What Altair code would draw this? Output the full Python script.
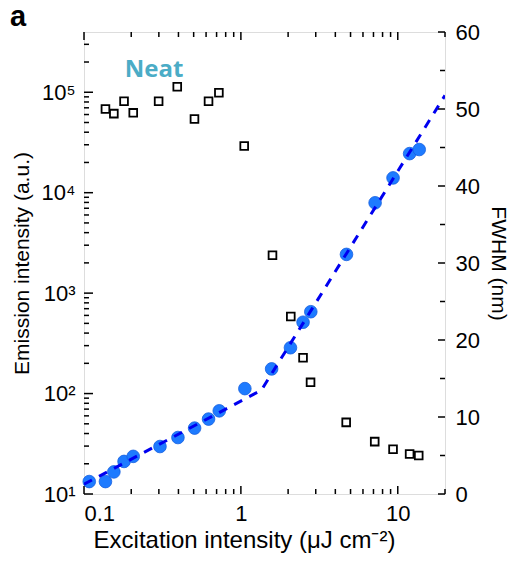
import altair as alt
import pandas as pd

# Emission intensity (left, log axis)
ex_x = [0.108, 0.137, 0.155, 0.180, 0.206, 0.305, 0.397, 0.507, 0.622, 0.728,
        1.06, 1.57, 2.07, 2.49, 2.79, 4.71, 7.17, 9.33, 11.9, 13.7]
ex_y = [13.3, 13.3, 16.6, 21.1, 23.7, 29.7, 36.5, 45.3, 55.7, 67.3,
        112, 176, 286, 513, 653, 2430, 7930, 14030, 24500, 26900]

# Fit (dashed line)
fit_x = [0.1, 1.35, 20]
fit_y = [12.5, 108, 93000]

# FWHM (right, linear axis)
fw_x = [0.137, 0.155, 0.180, 0.206, 0.299, 0.393, 0.506, 0.622, 0.724, 1.05,
        1.59, 2.08, 2.49, 2.78, 4.69, 7.13, 9.33, 11.9, 13.6]
fw_y = [50.0, 49.4, 51.0, 49.5, 51.0, 52.9, 48.7, 51.0, 52.1, 45.2,
        31.0, 23.05, 17.7, 14.5, 9.3, 6.8, 5.8, 5.2, 5.0]

x_major = [0.1, 1, 10]
x_minor = [0.2, 0.3, 0.4, 0.5, 0.6, 0.7, 0.8, 0.9,
           2, 3, 4, 5, 6, 7, 8, 9, 20]
y_major = [10, 100, 1000, 10000, 100000]
y_minor = [m * d for d in [10, 100, 1000, 10000] for m in range(2, 10)] + [200000, 300000]
r_major = [0, 10, 20, 30, 40, 50, 60]
r_minor = [5, 15, 25, 35, 45, 55]

W, H = 361, 462
FONT = "Liberation Sans"

xs = alt.Scale(type="log", domain=[0.1, 20], nice=False)
ys = alt.Scale(type="log", domain=[10, 398000], nice=False)
rs = alt.Scale(domain=[0, 60], nice=False)

emis = pd.DataFrame({"x": ex_x, "y": ex_y})
fit = pd.DataFrame({"x": fit_x, "y": fit_y})
fw = pd.DataFrame({"x": fw_x, "y": fw_y})

x_axis = alt.Axis(values=x_major, format="~g", ticks=False, domain=False, grid=False,
                  labelFontSize=22, labelFont=FONT, labelColor="black", labelPadding=9,
                  title="Excitation intensity (μJ cm⁻²)", titleFont=FONT, titleFontSize=24,
                  titleFontWeight="normal", titleColor="black", titlePadding=4, titleX=160)

left_axis = alt.Axis(values=y_major, ticks=False, domain=False, grid=False,
                     labelExpr="'10' + ['⁰','¹','²','³','⁴','⁵','⁶'][round(log(datum.value)/LN10)]",
                     labelFontSize=22, labelFont=FONT, labelColor="black", labelPadding=9,
                     title="Emission intensity (a.u.)", titleFont=FONT, titleFontSize=21,
                     titleFontWeight="normal", titleColor="black", titlePadding=9)

right_axis = alt.Axis(values=r_major, orient="right", ticks=False, domain=False, grid=False,
                      labelFontSize=22, labelFont=FONT, labelColor="black", labelPadding=10,
                      title="FWHM (nm)", titleFont=FONT, titleFontSize=21,
                      titleFontWeight="normal", titleColor="black", titlePadding=8)

X = alt.X("x:Q", scale=xs, axis=x_axis)

points = alt.Chart(emis).mark_circle(size=160, color="#1E7BFF", opacity=1,
                                     stroke="#1560E0", strokeWidth=0.8).encode(
    x=X, y=alt.Y("y:Q", scale=ys, axis=left_axis))

line = alt.Chart(fit).mark_line(color="#0000F0", strokeWidth=3, strokeDash=[9, 8], clip=True).encode(
    x=alt.X("x:Q", scale=xs), y=alt.Y("y:Q", scale=ys))

def vticks(vals, length, top):
    d = pd.DataFrame({"v": vals})
    if top:
        return alt.Chart(d).mark_rule(color="black", strokeWidth=1.5).encode(
            x=alt.X("v:Q", scale=xs), y=alt.value(0), y2=alt.value(length))
    return alt.Chart(d).mark_rule(color="black", strokeWidth=1.5).encode(
        x=alt.X("v:Q", scale=xs), y=alt.value(H), y2=alt.value(H - length))

def lticks(vals, length):
    d = pd.DataFrame({"v": vals})
    return alt.Chart(d).mark_rule(color="black", strokeWidth=1.5).encode(
        y=alt.Y("v:Q", scale=ys), x=alt.value(0), x2=alt.value(length))

def rticks(vals, length):
    d = pd.DataFrame({"v": vals})
    return alt.Chart(d).mark_rule(color="black", strokeWidth=1.5).encode(
        y=alt.Y("v:Q", scale=rs), x=alt.value(W), x2=alt.value(W - length))

label_a = alt.Chart(pd.DataFrame({"t": ["a"]})).mark_text(
    font=FONT, fontSize=29, fontWeight="bold", align="center", baseline="alphabetic",
    color="black").encode(text="t:N", x=alt.value(-66), y=alt.value(-6))

neat = alt.Chart(pd.DataFrame({"t": ["Neat"]})).mark_text(
    font="Open Sans", fontSize=24, fontWeight="bold", align="center", baseline="alphabetic",
    color="#4BACC6").encode(text="t:N", x=alt.value(70), y=alt.value(45))

left_group = alt.layer(
    points, line,
    lticks(y_major, 9), lticks(y_minor, 5),
    vticks(x_major, 8, False), vticks(x_minor, 5, False),
    vticks(x_major, 8, True), vticks(x_minor, 5, True),
    label_a, neat,
)

squares = alt.Chart(fw).mark_square(size=60, filled=False, color="black", strokeWidth=1.8, opacity=1).encode(
    x=alt.X("x:Q", scale=xs), y=alt.Y("y:Q", scale=rs, axis=right_axis))

right_group = alt.layer(squares, rticks(r_major, 7), rticks(r_minor, 5))

chart = alt.layer(left_group, right_group).resolve_scale(y="independent").properties(
    width=W, height=H,
    autosize=alt.AutoSizeParams(type="none"),
    padding={"left": 84, "top": 32, "right": 71, "bottom": 68},
).configure_view(stroke="black", strokeWidth=2).configure(background="white")

chart.save("out.html", embed_options={"renderer": "svg", "actions": False})
